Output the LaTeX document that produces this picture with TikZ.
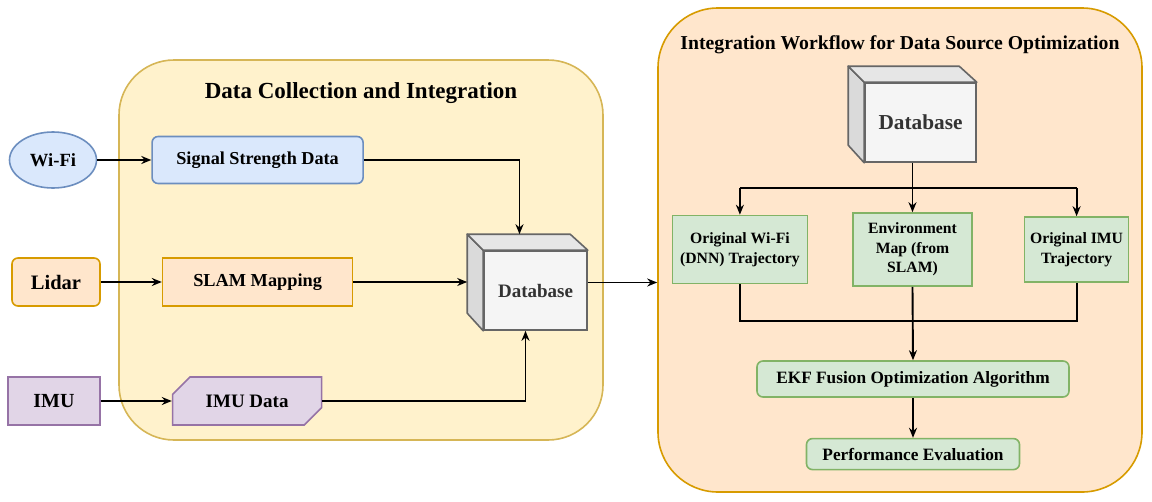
\documentclass[tikz,border=0pt]{standalone}
\usepackage{fontspec}
\setmainfont{Liberation Serif}
\usetikzlibrary{positioning,shapes.geometric,shapes.misc,arrows.meta}

\definecolor{blueFill}{HTML}{DAE8FC}
\definecolor{blueLine}{HTML}{6C8EBF}
\definecolor{orangeFill}{HTML}{FFE6CC}
\definecolor{orangeLine}{HTML}{D79B00}
\definecolor{yellowFill}{HTML}{FFF2CC}
\definecolor{yellowLine}{HTML}{D6B656}
\definecolor{purpleFill}{HTML}{E1D5E7}
\definecolor{purpleLine}{HTML}{9673A6}
\definecolor{greenFill}{HTML}{D5E8D4}
\definecolor{greenLine}{HTML}{82B366}
\definecolor{cubeFill}{HTML}{F5F5F5}
\definecolor{cubeTop}{HTML}{E6E6E6}
\definecolor{cubeSide}{HTML}{DADADA}
\definecolor{cubeLine}{HTML}{666666}
\definecolor{cubeText}{HTML}{333333}

\tikzset{
  block/.style={draw, line width=1.6pt, align=center, inner sep=2pt},
  wifibox/.style={block, fill=blueFill, draw=blueLine},
  lidarbox/.style={block, fill=orangeFill, draw=orangeLine},
  imubox/.style={block, fill=purpleFill, draw=purpleLine},
  stagebox/.style={block, fill=greenFill, draw=greenLine},
  cubefront/.style={block, fill=cubeFill, draw=cubeLine, text=cubeText},
  panel/.style={draw, line width=1.6pt},
  conn/.style={line width=1.9pt, -{Stealth[length=10pt,width=8pt]}},
  link/.style={line width=1.9pt},
}

\begin{document}
\begin{tikzpicture}[x=1pt, y=-1pt]
    \useasboundingbox (0,0) rectangle (1152,501);

    % Panels
    \node[panel, fill=yellowFill, draw=yellowLine, rounded corners=55pt,
          minimum width=484pt, minimum height=380pt] (collect) at (361,250) {};
    \node[panel, fill=orangeFill, draw=orangeLine, rounded corners=60pt,
          minimum width=484pt, minimum height=484pt] (wflow) at (900,250) {};
    \node[font=\bfseries\fontsize{23}{27}\selectfont] (collecttitle) at (361,93)
          {Data Collection and Integration};
    \node[font=\bfseries\fontsize{19.7}{23}\selectfont] (wflowtitle) at (900,45)
          {Integration Workflow for Data Source Optimization};

    % Sources
    \node[wifibox, ellipse, minimum width=87pt, minimum height=56pt,
          font=\bfseries\fontsize{18.6}{22}\selectfont] (wifi) at (53,160) {Wi-Fi};
    \node[lidarbox, rounded corners=6pt, minimum width=88pt, minimum height=48pt,
          font=\bfseries\fontsize{20.5}{24}\selectfont] (lidar) at (56,282) {Lidar};
    \node[imubox, minimum width=92pt, minimum height=48pt,
          font=\bfseries\fontsize{20}{24}\selectfont] (imu) at (54,401) {IMU};

    % Collected data
    \node[wifibox, rounded corners=6pt, right=54pt of wifi, minimum width=211pt,
          minimum height=47pt, font=\bfseries\fontsize{18.2}{22}\selectfont] (sig) {Signal Strength Data};
    \node[lidarbox, right=61pt of lidar, minimum width=190pt, minimum height=48pt,
          font=\bfseries\fontsize{18.3}{22}\selectfont] (slam) {SLAM Mapping};
    \node[imubox, chamfered rectangle, chamfered rectangle corners={north west,south east},
          chamfered rectangle xsep=9pt, chamfered rectangle ysep=9pt,
          right=71pt of imu, minimum width=149pt, minimum height=48pt,
          font=\bfseries\fontsize{19}{22}\selectfont] (imudata) {IMU Data};

    % Database (collection side)
    \node[cubefront, minimum width=103pt, minimum height=79pt,
          font=\bfseries\fontsize{19}{22}\selectfont] (db1) at (535.5,290.5) {Database};
    \filldraw[fill=cubeSide, draw=cubeLine, line width=1.6pt, line join=round]
        (db1.north west) -- ++(-16pt,16pt) -- ++(0,-79pt) -- (db1.south west) -- cycle;
    \filldraw[fill=cubeTop, draw=cubeLine, line width=1.6pt, line join=round]
        (db1.north west) -- ++(-16pt,16pt) -- ++(103pt,0) -- (db1.north east) -- cycle;
    \coordinate (db1side) at ([xshift=-16pt]db1.west);
    \coordinate (db1out) at ([yshift=8pt]db1.east);

    % Database (workflow side)
    \node[cubefront, minimum width=111pt, minimum height=79pt,
          font=\bfseries\fontsize{21.3}{25}\selectfont] (db2) at (920.5,122.5) {Database};
    \filldraw[fill=cubeSide, draw=cubeLine, line width=1.6pt, line join=round]
        (db2.north west) -- ++(-16pt,16pt) -- ++(0,-79pt) -- (db2.south west) -- cycle;
    \filldraw[fill=cubeTop, draw=cubeLine, line width=1.6pt, line join=round]
        (db2.north west) -- ++(-16pt,16pt) -- ++(111pt,0) -- (db2.north east) -- cycle;

    % Workflow stages
    \node[stagebox, minimum width=119pt, minimum height=73pt,
          font=\bfseries\fontsize{15.7}{19.5}\selectfont] (envmap) at (912.5,249.5)
          {Environment\\Map (from\\SLAM)};
    \node[stagebox, left=44pt of envmap, minimum width=135pt, minimum height=68pt,
          font=\bfseries\fontsize{15.7}{19.5}\selectfont] (wifitraj)
          {Original Wi-Fi\\(DNN) Trajectory};
    \node[stagebox, right=51pt of envmap, minimum width=104pt, minimum height=65pt,
          font=\bfseries\fontsize{15.7}{19.5}\selectfont] (imutraj)
          {Original IMU\\Trajectory};
    \node[stagebox, rounded corners=6pt, minimum width=312pt, minimum height=36pt,
          font=\bfseries\fontsize{17.3}{21}\selectfont] (ekf) at (913,379)
          {EKF Fusion Optimization Algorithm};
    \node[stagebox, rounded corners=6pt, below=40pt of ekf, minimum width=213pt,
          minimum height=31pt, font=\bfseries\fontsize{17.3}{21}\selectfont] (perf)
          {Performance Evaluation};

    % Connect the nodes
    \draw[conn] (wifi.east) -- (sig.west);
    \draw[conn] (lidar.east) -- (slam.west);
    \draw[conn] (imu.east) -- (imudata.west);
    \draw[conn] (sig.east) -| ([shift={(-16pt,16pt)}]db1.north);
    \draw[conn] (slam.east) -- (slam.east -| db1side);
    \draw[conn] (imudata.east) -| ([xshift=-10pt]db1.south);
    \draw[conn] (db1out) -- (db1out -| wflow.west);

    \coordinate (split) at (912.5,188);
    \coordinate (merge) at (912.5,321);
    \draw[link] ([xshift=-8pt]db2.south) -- (split);
    \draw[link] (split -| wifitraj) -- (split -| imutraj);
    \draw[conn] (split -| wifitraj) -- (wifitraj.north);
    \draw[conn] (split) -- (envmap.north);
    \draw[conn] (split -| imutraj) -- (imutraj.north);
    \draw[link] (wifitraj.south) |- (merge -| imutraj) -- (imutraj.south);
    \draw[conn] (envmap.south) -- (ekf.north);
    \draw[conn] (ekf.south) -- (perf.north);

\end{tikzpicture}
\end{document}
